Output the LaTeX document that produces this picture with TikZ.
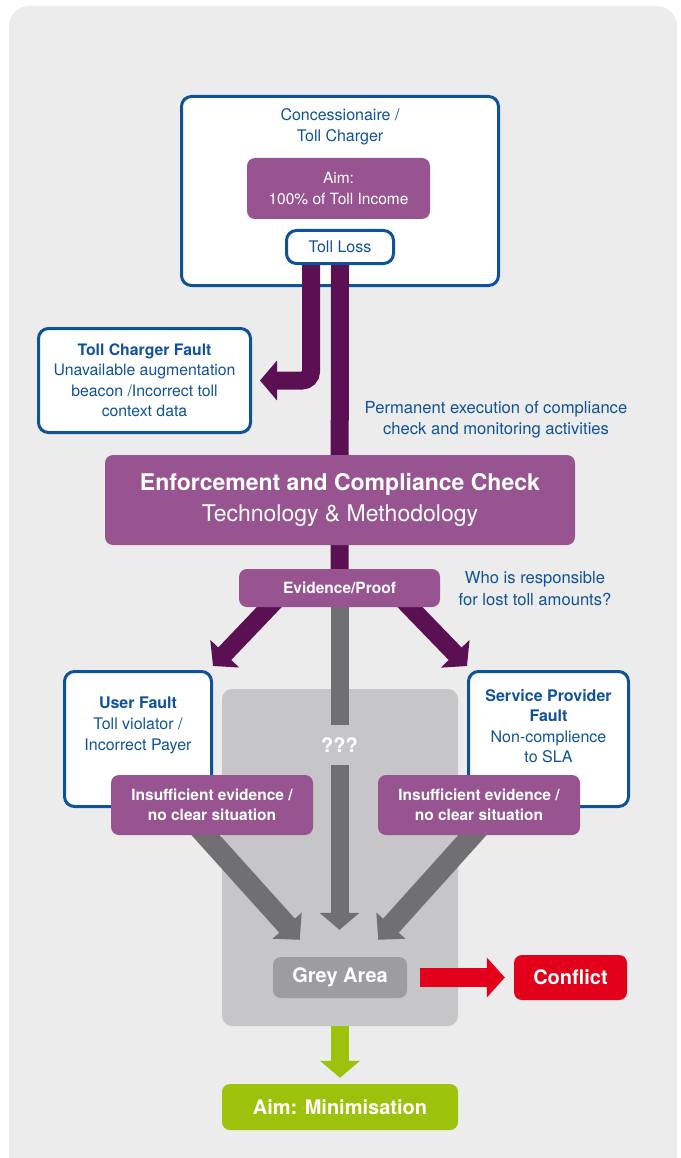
\documentclass[tikz,border=0pt]{standalone}
\usepackage{fontspec}
\setmainfont{TeX Gyre Heros}
\usetikzlibrary{arrows.meta}
\pgfdeclarelayer{back}
\pgfdeclarelayer{bars}
\pgfsetlayers{back,bars,main}
\definecolor{panel}{RGB}{236,236,236}
\definecolor{tollblue}{RGB}{16,82,152}
\definecolor{lilac}{RGB}{151,84,145}
\definecolor{plum}{RGB}{92,16,84}
\definecolor{slate}{RGB}{112,112,115}
\definecolor{greyzone}{RGB}{198,198,200}
\definecolor{greyarea}{RGB}{157,157,159}
\definecolor{signal}{RGB}{226,0,26}
\definecolor{lime}{RGB}{157,194,12}
\begin{document}
\begin{tikzpicture}[x=1pt,y=-1pt,
	txt/.style={font=\fontsize{16}{21}\selectfont,align=center,text=tollblue},
	whitebox/.style={txt,draw=tollblue,line width=3pt,fill=white,rounded corners=10pt},
	purplebox/.style={font=\fontsize{15.5}{20.5}\selectfont,align=center,text=white,fill=lilac,rounded corners=8pt},
	bigbox/.style={font=\bfseries\fontsize{20}{24}\selectfont,text=white,rounded corners=8pt},
	pbar/.style={draw=plum,line width=18pt},
	gbar/.style={draw=slate,line width=18pt},
	blockhead/.style={-{Triangle[width=39pt,length=17pt]}}]
	\useasboundingbox (0,0) rectangle (680,1158);
	\begin{pgfonlayer}{back}
	\fill[panel,rounded corners=20pt] (9,1158) -- (9,6) -- (677,6) -- (677,1158);
	\node[whitebox,minimum width=317pt,minimum height=189pt] (A) at (340,191) {};
	\node[fill=greyzone,rounded corners=10pt,minimum width=236pt,minimum height=337pt] (Z) at (340,857.5) {};
	\end{pgfonlayer}
	% top part
	\node[txt] (B) at (340,127) {Concessionaire /\\Toll Charger};
	\node[purplebox,minimum width=183pt,minimum height=61pt] (C) at (338.5,188.5) {Aim:\\100\% of Toll Income};
	\node[whitebox,minimum width=107pt,minimum height=33pt] (D) at (340,247) {Toll Loss};
	\node[whitebox,minimum width=212pt,minimum height=104pt,font=\fontsize{15.8}{20.5}\selectfont] (E) at (144.5,380.5) {\textbf{Toll Charger Fault}\\Unavailable augmentation\\beacon /Incorrect toll\\context data};
	\node[txt,font=\fontsize{16.6}{21}\selectfont] (F) at (496,420) {Permanent execution of compliance\\check and monitoring activities};
	\node[purplebox,rounded corners=8pt,minimum width=470pt,minimum height=90pt,font=\fontsize{23}{31}\selectfont] (G) at (340,500) {\textbf{Enforcement and Compliance Check}\\Technology \& Methodology};
	\node[purplebox,font=\bfseries\fontsize{15.5}{20.5}\selectfont,minimum width=201pt,minimum height=38pt] (H) at (339.5,588) {Evidence/Proof};
	\node[txt,font=\fontsize{16.6}{22}\selectfont] (I) at (535,589) {Who is responsible\\for lost toll amounts?};
	% faults
	\node[whitebox,minimum width=147pt,minimum height=135pt] (J) at (138,739) {};
	\node[txt] (K) at (138,725) {\textbf{User Fault}\\Toll violator /\\Incorrect Payer};
	\node[whitebox,minimum width=160pt,minimum height=135pt] (L) at (548.5,739) {};
	\node[txt,font=\fontsize{16}{20.5}\selectfont] (S) at (548.5,726) {\textbf{Service Provider}\\\textbf{Fault}\\Non-complience\\to SLA};
	\node[purplebox,font=\bfseries\fontsize{15.5}{20.5}\selectfont,minimum width=202pt,minimum height=60pt] (M) at (212,805) {Insufficient evidence /\\no clear situation};
	\node[purplebox,font=\bfseries\fontsize{15.5}{20.5}\selectfont,minimum width=202pt,minimum height=60pt] (N) at (479,805) {Insufficient evidence /\\no clear situation};
	\node[fill=greyzone,text=white,font=\bfseries\fontsize{20}{24}\selectfont,inner xsep=2pt,minimum height=40pt] (O) at (339.5,745) {???};
	% bottom part
	\node[bigbox,fill=greyarea,minimum width=134pt,minimum height=41pt] (P) at (340,977.5) {Grey Area};
	\node[bigbox,fill=signal,minimum width=113pt,minimum height=45pt] (Q) at (570.5,977.5) {Conflict};
	\node[bigbox,fill=lime,minimum width=236pt,minimum height=46pt] (R) at (340,1107) {Aim: Minimisation};
	\begin{pgfonlayer}{bars}
	\draw[pbar,blockhead,rounded corners=9pt,shorten >=8pt] ([xshift=-29pt]D.south) |- (E.east);
	\draw[pbar] (D.south) -- (H.north);
	\draw[pbar,blockhead] ([xshift=-57pt,yshift=14pt]H.south) -- ([yshift=4pt]J.north east);
	\draw[pbar,blockhead] ([xshift=57pt,yshift=14pt]H.south) -- ([yshift=4pt]L.north west);
	\draw[gbar,blockhead,shorten >=27pt] (H.south) -- (H.south |- P.north);
	\draw[gbar,line width=21pt,-{Triangle[width=38pt,length=19pt]}] ([xshift=-29pt,yshift=-5pt]M.center) -- ([xshift=27pt,yshift=17pt]P.north west);
	\draw[gbar,line width=21pt,-{Triangle[width=38pt,length=19pt]}] ([xshift=16pt,yshift=-5pt]N.center) -- ([xshift=-29pt,yshift=17pt]P.north east);
	\draw[draw=signal,line width=19pt,-{Triangle[width=39pt,length=18pt]},shorten <=13pt,shorten >=9pt] (P.east) -- (Q.west);
	\draw[draw=lime,line width=18pt,blockhead,shorten >=6pt] (Z.south) -- (R.north);
	\end{pgfonlayer}
\end{tikzpicture}
\end{document}
